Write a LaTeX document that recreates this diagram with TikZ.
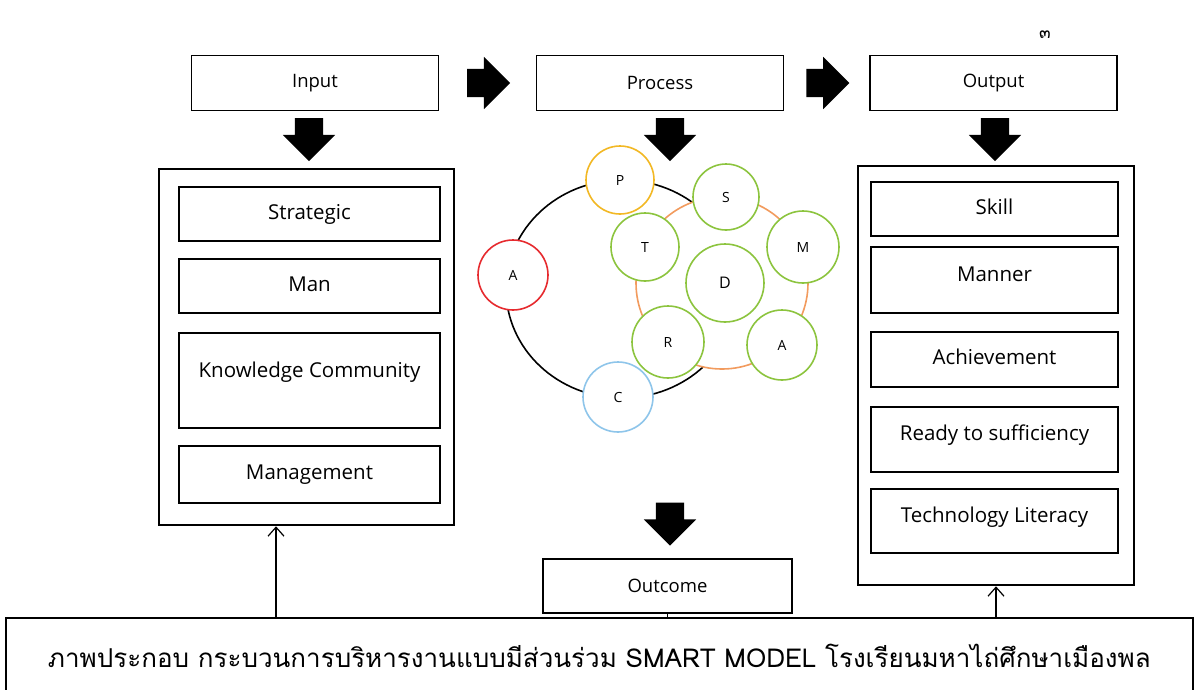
\documentclass[tikz,border=0pt]{standalone}
\usepackage{fontspec}
\setmainfont{Open Sans}
\newfontfamily\thaifont[Script=Thai]{Loma}
\usetikzlibrary{arrows.meta,positioning,shapes.arrows,shapes.geometric,calc}

\definecolor{ringred}{HTML}{E62A2E}
\definecolor{ringyellow}{HTML}{F2B824}
\definecolor{ringblue}{HTML}{8EC5EA}
\definecolor{ringgreen}{HTML}{8CC43E}
\definecolor{ringorange}{HTML}{F29B5E}

\begin{document}
\begin{tikzpicture}[x=1pt,y=-1pt,
  box/.style={draw,line width=1.6pt,minimum width=247pt,minimum height=55pt,inner sep=0pt,font=\fontsize{18.5}{20}\selectfont},
  frame/.style={draw,line width=2.6pt,inner sep=0pt},
  inbox/.style={draw,line width=1.5pt,inner sep=0pt,text height=14pt,text depth=4pt,font=\fontsize{20.5}{22}\selectfont},
  bigarrow/.style={single arrow,fill=black,inner xsep=0pt,inner ysep=14pt,minimum height=43pt,single arrow head extend=12pt},
  ball/.style={circle,draw=#1,line width=1.6pt,fill=white,minimum size=68pt,inner sep=0pt,font=\fontsize{14}{15}\selectfont},
  up/.style={-{Straight Barb[length=9pt,width=16pt]},line width=1.2pt}]

  \useasboundingbox (0,0) rectangle (1197,689);

  \node[font=\thaifont\fontsize{17}{18}\selectfont] (page) at (1045,35) {๓};

  % top row
  \node[box] (In)  at (315,83)   {Input};
  \node[box] (Pro) at (660,83)   {Process};
  \node[box] (Out) at (993.5,83) {Output};

  \node[bigarrow] (r1) at ($(In.east)!0.5!(Pro.west)+(-6,0)$)  {};
  \node[bigarrow] (r2) at ($(Pro.east)!0.5!(Out.west)+(-6,0)$) {};

  \node[bigarrow,rotate=-90] (d1) at (309,132.5) {};
  \node[bigarrow,rotate=-90] (d2) at (670,132.5) {};
  \node[bigarrow,rotate=-90] (d3) at (995,132.5) {};

  % input column
  \node[frame,minimum width=295pt,minimum height=356pt] (inframe) at (306.5,347) {};
  \node[inbox,minimum width=261pt,minimum height=54pt] (strat) at (309.5,214)   {Strategic};
  \node[inbox,minimum width=261pt,minimum height=54pt] (man)   at (309.5,286)   {Man};
  \node[inbox,minimum width=261pt,minimum height=95pt,text depth=21pt] (know) at (309.5,380.5) {Knowledge Community};
  \node[inbox,minimum width=261pt,minimum height=57pt] (mgmt)  at (309.5,474.5) {Management};

  % output column
  \node[frame,minimum width=276pt,minimum height=419pt] (outframe) at (996,375.5) {};
  \node[inbox,minimum width=247pt,minimum height=54pt] (skill)  at (994.5,209)   {Skill};
  \node[inbox,minimum width=247pt,minimum height=66pt,text depth=12pt] (manner) at (994.5,280) {Manner};
  \node[inbox,minimum width=247pt,minimum height=55pt] (achiev) at (994.5,359.5) {Achievement};
  \node[inbox,minimum width=247pt,minimum height=65pt,text depth=12pt] (ready)  at (994.5,439.5) {Ready to sufficiency};
  \node[inbox,minimum width=247pt,minimum height=64pt,text depth=12pt] (tech)   at (994.5,521)   {Technology Literacy};

  % process circles
  \node[ellipse,draw,line width=1.6pt,minimum width=232pt,minimum height=218pt] (ring) at (622,289) {};
  \node[circle,draw=ringorange,line width=1.6pt,fill=white,minimum size=172pt] (orbit) at (722,283) {};
  \node[ball=ringyellow] (P)  at (620,180) {P};
  \node[ball=ringred,minimum size=70pt]  (A1) at (513,275) {A};
  \node[ball=ringblue,minimum size=70pt] (C)  at (618,397) {C};
  \node[ball=ringgreen,minimum size=66pt] (S) at (726,197) {S};
  \node[ball=ringgreen] (T) at (645,247) {T};
  \node[ball=ringgreen,minimum size=72pt] (M) at (803,247) {M};
  \node[ball=ringgreen,minimum size=78pt,font=\fontsize{16}{17}\selectfont] (D) at (725,283) {D};
  \node[ball=ringgreen,minimum size=72pt] (R) at (668,342) {R};
  \node[ball=ringgreen,minimum size=70pt] (A2) at (782,345) {A};

  % outcome
  \node[bigarrow,rotate=-90] (d4) at (670,517) {};
  \node[box,minimum width=249pt,minimum height=54pt] (outcome) at (667.5,586) {Outcome};

  % caption
  \node[draw,line width=1.6pt,fill=white,minimum width=1187pt,minimum height=76pt,anchor=north west,inner sep=0pt,
        font=\thaifont\fontsize{26}{28}\selectfont] (caption) at (5,617)
        {ภาพประกอบ กระบวนการบริหารงานแบบมีส่วนร่วม SMART MODEL โรงเรียนมหาไถ่ศึกษาเมืองพล};

  \coordinate (uL) at (276,617);
  \draw[up] (uL) -- (uL |- inframe.south);
  \draw[up] (outframe.south |- caption.north) -- (outframe.south);
  \draw[line width=1.2pt] (outcome.south) -- (outcome.south |- caption.north);
\end{tikzpicture}
\end{document}
